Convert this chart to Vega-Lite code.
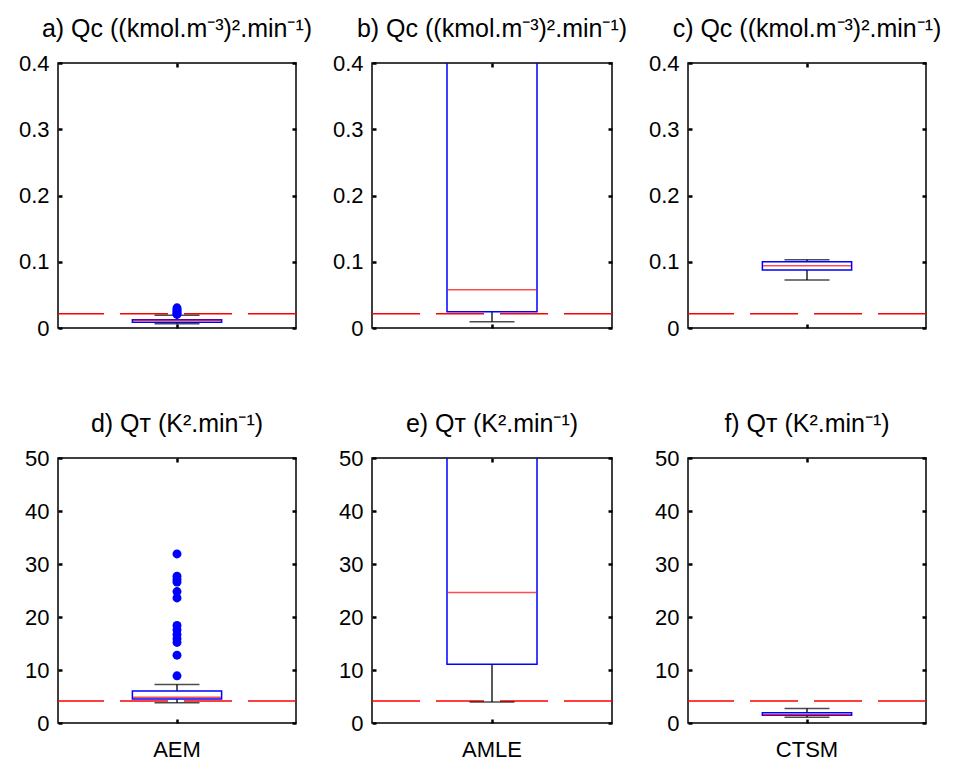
{
  "$schema": "https://vega.github.io/schema/vega-lite/v6.json",
  "background": "white",
  "padding": {"left": 12, "top": 16, "right": 5, "bottom": 5},
  "datasets": {
    "stats": [
      {"panel": "a", "method": "AEM", "lower": 0.0065, "q1": 0.0088, "median": 0.0118, "q3": 0.0126, "upper": 0.0192, "thr": 0.0215},
      {"panel": "b", "method": "AMLE", "lower": 0.0095, "q1": 0.0246, "median": 0.0578, "q3": 0.62, "upper": 0.95, "thr": 0.0215},
      {"panel": "c", "method": "CTSM", "lower": 0.0725, "q1": 0.0875, "median": 0.094, "q3": 0.1001, "upper": 0.1031, "thr": 0.0215},
      {"panel": "d", "method": "AEM", "lower": 3.8, "q1": 4.55, "median": 4.86, "q3": 6.06, "upper": 7.25, "thr": 4.15},
      {"panel": "e", "method": "AMLE", "lower": 3.95, "q1": 11.1, "median": 24.6, "q3": 80, "upper": 120, "thr": 4.15},
      {"panel": "f", "method": "CTSM", "lower": 1.09, "q1": 1.45, "median": 1.55, "q3": 1.94, "upper": 2.73, "thr": 4.15}
    ],
    "outliers": [
      {"panel": "a", "method": "AEM", "value": 0.0205},
      {"panel": "a", "method": "AEM", "value": 0.022},
      {"panel": "a", "method": "AEM", "value": 0.024},
      {"panel": "a", "method": "AEM", "value": 0.026},
      {"panel": "a", "method": "AEM", "value": 0.028},
      {"panel": "a", "method": "AEM", "value": 0.0305},
      {"panel": "d", "method": "AEM", "value": 8.9},
      {"panel": "d", "method": "AEM", "value": 12.8},
      {"panel": "d", "method": "AEM", "value": 15.2},
      {"panel": "d", "method": "AEM", "value": 15.9},
      {"panel": "d", "method": "AEM", "value": 16.7},
      {"panel": "d", "method": "AEM", "value": 17.6},
      {"panel": "d", "method": "AEM", "value": 18.4},
      {"panel": "d", "method": "AEM", "value": 23.6},
      {"panel": "d", "method": "AEM", "value": 24.8},
      {"panel": "d", "method": "AEM", "value": 26.6},
      {"panel": "d", "method": "AEM", "value": 27.1},
      {"panel": "d", "method": "AEM", "value": 27.7},
      {"panel": "d", "method": "AEM", "value": 31.9}
    ]
  },
  "config": {
    "font": "Liberation Sans",
    "view": {"stroke": "black", "strokeWidth": 1.5},
    "title": {"fontSize": 25, "fontWeight": "normal", "color": "black", "offset": 10, "font": "Liberation Sans"},
    "axis": {"tickColor": "black", "tickWidth": 2.5, "tickSize": -4, "domain": false, "grid": false, "labelFontSize": 22, "labelColor": "black", "labelFont": "Liberation Sans"}
  },
  "spacing": 71,
  "vconcat": [
    {
      "spacing": 76,
      "bounds": "flush",
      "hconcat": [
        {
          "width": 238, "height": 265,
          "title": "a) Qᴄ ((kmol.m⁻³)².min⁻¹)",
          "data": {"name": "stats"},
          "transform": [{"filter": "datum.panel === 'a'"}],
          "resolve": {"axis": {"x": "independent", "y": "independent"}},
          "layer": [
            {"mark": {"type": "rule", "color": "#ff0000", "strokeWidth": 1.5, "strokeDash": [48, 16]},
             "encoding": {"y": {"field": "thr", "type": "quantitative", "scale": {"domain": [0, 0.4], "nice": false}, "axis": {"orient": "left", "values": [0, 0.1, 0.2, 0.3, 0.4], "format": "~g", "title": null, "labelPadding": 13, "minExtent": 45, "maxExtent": 45}}}},
            {"mark": {"type": "rule", "color": "black", "strokeWidth": 1.3, "clip": true},
             "encoding": {"x": {"field": "method", "type": "nominal", "scale": {"paddingInner": 0, "paddingOuter": 0}, "axis": null}, "y": {"field": "lower", "type": "quantitative", "scale": {"domain": [0, 0.4], "nice": false}, "axis": null}, "y2": {"field": "q1"}}},
            {"mark": {"type": "rule", "color": "black", "strokeWidth": 1.3, "clip": true},
             "encoding": {"x": {"field": "method", "type": "nominal", "axis": null}, "y": {"field": "q3", "type": "quantitative", "axis": null}, "y2": {"field": "upper"}}},
            {"mark": {"type": "tick", "color": "black", "size": 45, "thickness": 1.5, "clip": true},
             "encoding": {"x": {"field": "method", "type": "nominal", "axis": null}, "y": {"field": "lower", "type": "quantitative", "axis": null}}},
            {"mark": {"type": "tick", "color": "black", "size": 45, "thickness": 1.5, "clip": true},
             "encoding": {"x": {"field": "method", "type": "nominal", "axis": null}, "y": {"field": "upper", "type": "quantitative", "axis": null}}},
            {"data": {"name": "outliers"}, "transform": [{"filter": "datum.panel === 'a'"}],
             "mark": {"type": "point", "filled": true, "color": "#0000ff", "size": 80, "opacity": 1, "clip": true},
             "encoding": {"x": {"field": "method", "type": "nominal", "axis": null}, "y": {"field": "value", "type": "quantitative", "axis": null}}},
            {"mark": {"type": "bar", "fill": "transparent", "stroke": "#0000ff", "strokeWidth": 1.5, "width": {"band": 0.375}, "clip": true},
             "encoding": {"x": {"field": "method", "type": "nominal", "axis": {"orient": "bottom", "labels": false, "title": null}}, "y": {"field": "q1", "type": "quantitative", "axis": {"orient": "right", "labels": false, "values": [0, 0.1, 0.2, 0.3, 0.4], "title": null, "minExtent": 0, "maxExtent": 0}}, "y2": {"field": "q3"}}},
            {"mark": {"type": "tick", "color": "#ff0000", "size": 88, "thickness": 1.5, "clip": true},
             "encoding": {"x": {"field": "method", "type": "nominal", "axis": {"orient": "top", "labels": false, "title": null}}, "y": {"field": "median", "type": "quantitative", "axis": null}}}
          ]
        },
        {
          "width": 240, "height": 265,
          "title": "b) Qᴄ ((kmol.m⁻³)².min⁻¹)",
          "data": {"name": "stats"},
          "transform": [{"filter": "datum.panel === 'b'"}],
          "resolve": {"axis": {"x": "independent", "y": "independent"}},
          "layer": [
            {"mark": {"type": "rule", "color": "#ff0000", "strokeWidth": 1.5, "strokeDash": [48, 16]},
             "encoding": {"y": {"field": "thr", "type": "quantitative", "scale": {"domain": [0, 0.4], "nice": false}, "axis": {"orient": "left", "values": [0, 0.1, 0.2, 0.3, 0.4], "format": "~g", "title": null, "labelPadding": 13, "minExtent": 45, "maxExtent": 45}}}},
            {"mark": {"type": "rule", "color": "black", "strokeWidth": 1.3, "clip": true},
             "encoding": {"x": {"field": "method", "type": "nominal", "scale": {"paddingInner": 0, "paddingOuter": 0}, "axis": null}, "y": {"field": "lower", "type": "quantitative", "scale": {"domain": [0, 0.4], "nice": false}, "axis": null}, "y2": {"field": "q1"}}},
            {"mark": {"type": "rule", "color": "black", "strokeWidth": 1.3, "clip": true},
             "encoding": {"x": {"field": "method", "type": "nominal", "axis": null}, "y": {"field": "q3", "type": "quantitative", "axis": null}, "y2": {"field": "upper"}}},
            {"mark": {"type": "tick", "color": "black", "size": 45, "thickness": 1.5, "clip": true},
             "encoding": {"x": {"field": "method", "type": "nominal", "axis": null}, "y": {"field": "lower", "type": "quantitative", "axis": null}}},
            {"mark": {"type": "tick", "color": "black", "size": 45, "thickness": 1.5, "clip": true},
             "encoding": {"x": {"field": "method", "type": "nominal", "axis": null}, "y": {"field": "upper", "type": "quantitative", "axis": null}}},
            {"mark": {"type": "bar", "fill": "transparent", "stroke": "#0000ff", "strokeWidth": 1.5, "width": {"band": 0.375}, "clip": true},
             "encoding": {"x": {"field": "method", "type": "nominal", "axis": {"orient": "bottom", "labels": false, "title": null}}, "y": {"field": "q1", "type": "quantitative", "axis": {"orient": "right", "labels": false, "values": [0, 0.1, 0.2, 0.3, 0.4], "title": null, "minExtent": 0, "maxExtent": 0}}, "y2": {"field": "q3"}}},
            {"mark": {"type": "tick", "color": "#ff0000", "size": 88, "thickness": 1.5, "clip": true},
             "encoding": {"x": {"field": "method", "type": "nominal", "axis": {"orient": "top", "labels": false, "title": null}}, "y": {"field": "median", "type": "quantitative", "axis": null}}}
          ]
        },
        {
          "width": 238, "height": 265,
          "title": "c) Qᴄ ((kmol.m⁻³)².min⁻¹)",
          "data": {"name": "stats"},
          "transform": [{"filter": "datum.panel === 'c'"}],
          "resolve": {"axis": {"x": "independent", "y": "independent"}},
          "layer": [
            {"mark": {"type": "rule", "color": "#ff0000", "strokeWidth": 1.5, "strokeDash": [48, 16]},
             "encoding": {"y": {"field": "thr", "type": "quantitative", "scale": {"domain": [0, 0.4], "nice": false}, "axis": {"orient": "left", "values": [0, 0.1, 0.2, 0.3, 0.4], "format": "~g", "title": null, "labelPadding": 13, "minExtent": 45, "maxExtent": 45}}}},
            {"mark": {"type": "rule", "color": "black", "strokeWidth": 1.3, "clip": true},
             "encoding": {"x": {"field": "method", "type": "nominal", "scale": {"paddingInner": 0, "paddingOuter": 0}, "axis": null}, "y": {"field": "lower", "type": "quantitative", "scale": {"domain": [0, 0.4], "nice": false}, "axis": null}, "y2": {"field": "q1"}}},
            {"mark": {"type": "rule", "color": "black", "strokeWidth": 1.3, "clip": true},
             "encoding": {"x": {"field": "method", "type": "nominal", "axis": null}, "y": {"field": "q3", "type": "quantitative", "axis": null}, "y2": {"field": "upper"}}},
            {"mark": {"type": "tick", "color": "black", "size": 45, "thickness": 1.5, "clip": true},
             "encoding": {"x": {"field": "method", "type": "nominal", "axis": null}, "y": {"field": "lower", "type": "quantitative", "axis": null}}},
            {"mark": {"type": "tick", "color": "black", "size": 45, "thickness": 1.5, "clip": true},
             "encoding": {"x": {"field": "method", "type": "nominal", "axis": null}, "y": {"field": "upper", "type": "quantitative", "axis": null}}},
            {"mark": {"type": "bar", "fill": "transparent", "stroke": "#0000ff", "strokeWidth": 1.5, "width": {"band": 0.375}, "clip": true},
             "encoding": {"x": {"field": "method", "type": "nominal", "axis": {"orient": "bottom", "labels": false, "title": null}}, "y": {"field": "q1", "type": "quantitative", "axis": {"orient": "right", "labels": false, "values": [0, 0.1, 0.2, 0.3, 0.4], "title": null, "minExtent": 0, "maxExtent": 0}}, "y2": {"field": "q3"}}},
            {"mark": {"type": "tick", "color": "#ff0000", "size": 88, "thickness": 1.5, "clip": true},
             "encoding": {"x": {"field": "method", "type": "nominal", "axis": {"orient": "top", "labels": false, "title": null}}, "y": {"field": "median", "type": "quantitative", "axis": null}}}
          ]
        }
      ]
    },
    {
      "spacing": 76,
      "bounds": "flush",
      "hconcat": [
        {
          "width": 238, "height": 265,
          "title": "d) Qᴛ (K².min⁻¹)",
          "data": {"name": "stats"},
          "transform": [{"filter": "datum.panel === 'd'"}],
          "resolve": {"axis": {"x": "independent", "y": "independent"}},
          "layer": [
            {"mark": {"type": "rule", "color": "#ff0000", "strokeWidth": 1.5, "strokeDash": [48, 16]},
             "encoding": {"y": {"field": "thr", "type": "quantitative", "scale": {"domain": [0, 50], "nice": false}, "axis": {"orient": "left", "values": [0, 10, 20, 30, 40, 50], "title": null, "labelPadding": 13, "minExtent": 45, "maxExtent": 45}}}},
            {"mark": {"type": "rule", "color": "black", "strokeWidth": 1.3, "clip": true},
             "encoding": {"x": {"field": "method", "type": "nominal", "scale": {"paddingInner": 0, "paddingOuter": 0}, "axis": null}, "y": {"field": "lower", "type": "quantitative", "scale": {"domain": [0, 50], "nice": false}, "axis": null}, "y2": {"field": "q1"}}},
            {"mark": {"type": "rule", "color": "black", "strokeWidth": 1.3, "clip": true},
             "encoding": {"x": {"field": "method", "type": "nominal", "axis": null}, "y": {"field": "q3", "type": "quantitative", "axis": null}, "y2": {"field": "upper"}}},
            {"mark": {"type": "tick", "color": "black", "size": 45, "thickness": 1.5, "clip": true},
             "encoding": {"x": {"field": "method", "type": "nominal", "axis": null}, "y": {"field": "lower", "type": "quantitative", "axis": null}}},
            {"mark": {"type": "tick", "color": "black", "size": 45, "thickness": 1.5, "clip": true},
             "encoding": {"x": {"field": "method", "type": "nominal", "axis": null}, "y": {"field": "upper", "type": "quantitative", "axis": null}}},
            {"data": {"name": "outliers"}, "transform": [{"filter": "datum.panel === 'd'"}],
             "mark": {"type": "point", "filled": true, "color": "#0000ff", "size": 80, "opacity": 1, "clip": true},
             "encoding": {"x": {"field": "method", "type": "nominal", "axis": null}, "y": {"field": "value", "type": "quantitative", "axis": null}}},
            {"mark": {"type": "bar", "fill": "transparent", "stroke": "#0000ff", "strokeWidth": 1.5, "width": {"band": 0.375}, "clip": true},
             "encoding": {"x": {"field": "method", "type": "nominal", "axis": {"orient": "bottom", "labels": true, "labelAngle": 0, "labelPadding": 20, "title": null}}, "y": {"field": "q1", "type": "quantitative", "axis": {"orient": "right", "labels": false, "values": [0, 10, 20, 30, 40, 50], "title": null, "minExtent": 0, "maxExtent": 0}}, "y2": {"field": "q3"}}},
            {"mark": {"type": "tick", "color": "#ff0000", "size": 88, "thickness": 1.5, "clip": true},
             "encoding": {"x": {"field": "method", "type": "nominal", "axis": {"orient": "top", "labels": false, "title": null}}, "y": {"field": "median", "type": "quantitative", "axis": null}}}
          ]
        },
        {
          "width": 240, "height": 265,
          "title": "e) Qᴛ (K².min⁻¹)",
          "data": {"name": "stats"},
          "transform": [{"filter": "datum.panel === 'e'"}],
          "resolve": {"axis": {"x": "independent", "y": "independent"}},
          "layer": [
            {"mark": {"type": "rule", "color": "#ff0000", "strokeWidth": 1.5, "strokeDash": [48, 16]},
             "encoding": {"y": {"field": "thr", "type": "quantitative", "scale": {"domain": [0, 50], "nice": false}, "axis": {"orient": "left", "values": [0, 10, 20, 30, 40, 50], "title": null, "labelPadding": 13, "minExtent": 45, "maxExtent": 45}}}},
            {"mark": {"type": "rule", "color": "black", "strokeWidth": 1.3, "clip": true},
             "encoding": {"x": {"field": "method", "type": "nominal", "scale": {"paddingInner": 0, "paddingOuter": 0}, "axis": null}, "y": {"field": "lower", "type": "quantitative", "scale": {"domain": [0, 50], "nice": false}, "axis": null}, "y2": {"field": "q1"}}},
            {"mark": {"type": "rule", "color": "black", "strokeWidth": 1.3, "clip": true},
             "encoding": {"x": {"field": "method", "type": "nominal", "axis": null}, "y": {"field": "q3", "type": "quantitative", "axis": null}, "y2": {"field": "upper"}}},
            {"mark": {"type": "tick", "color": "black", "size": 45, "thickness": 1.5, "clip": true},
             "encoding": {"x": {"field": "method", "type": "nominal", "axis": null}, "y": {"field": "lower", "type": "quantitative", "axis": null}}},
            {"mark": {"type": "tick", "color": "black", "size": 45, "thickness": 1.5, "clip": true},
             "encoding": {"x": {"field": "method", "type": "nominal", "axis": null}, "y": {"field": "upper", "type": "quantitative", "axis": null}}},
            {"mark": {"type": "bar", "fill": "transparent", "stroke": "#0000ff", "strokeWidth": 1.5, "width": {"band": 0.375}, "clip": true},
             "encoding": {"x": {"field": "method", "type": "nominal", "axis": {"orient": "bottom", "labels": true, "labelAngle": 0, "labelPadding": 20, "title": null}}, "y": {"field": "q1", "type": "quantitative", "axis": {"orient": "right", "labels": false, "values": [0, 10, 20, 30, 40, 50], "title": null, "minExtent": 0, "maxExtent": 0}}, "y2": {"field": "q3"}}},
            {"mark": {"type": "tick", "color": "#ff0000", "size": 88, "thickness": 1.5, "clip": true},
             "encoding": {"x": {"field": "method", "type": "nominal", "axis": {"orient": "top", "labels": false, "title": null}}, "y": {"field": "median", "type": "quantitative", "axis": null}}}
          ]
        },
        {
          "width": 238, "height": 265,
          "title": "f) Qᴛ (K².min⁻¹)",
          "data": {"name": "stats"},
          "transform": [{"filter": "datum.panel === 'f'"}],
          "resolve": {"axis": {"x": "independent", "y": "independent"}},
          "layer": [
            {"mark": {"type": "rule", "color": "#ff0000", "strokeWidth": 1.5, "strokeDash": [48, 16]},
             "encoding": {"y": {"field": "thr", "type": "quantitative", "scale": {"domain": [0, 50], "nice": false}, "axis": {"orient": "left", "values": [0, 10, 20, 30, 40, 50], "title": null, "labelPadding": 13, "minExtent": 45, "maxExtent": 45}}}},
            {"mark": {"type": "rule", "color": "black", "strokeWidth": 1.3, "clip": true},
             "encoding": {"x": {"field": "method", "type": "nominal", "scale": {"paddingInner": 0, "paddingOuter": 0}, "axis": null}, "y": {"field": "lower", "type": "quantitative", "scale": {"domain": [0, 50], "nice": false}, "axis": null}, "y2": {"field": "q1"}}},
            {"mark": {"type": "rule", "color": "black", "strokeWidth": 1.3, "clip": true},
             "encoding": {"x": {"field": "method", "type": "nominal", "axis": null}, "y": {"field": "q3", "type": "quantitative", "axis": null}, "y2": {"field": "upper"}}},
            {"mark": {"type": "tick", "color": "black", "size": 45, "thickness": 1.5, "clip": true},
             "encoding": {"x": {"field": "method", "type": "nominal", "axis": null}, "y": {"field": "lower", "type": "quantitative", "axis": null}}},
            {"mark": {"type": "tick", "color": "black", "size": 45, "thickness": 1.5, "clip": true},
             "encoding": {"x": {"field": "method", "type": "nominal", "axis": null}, "y": {"field": "upper", "type": "quantitative", "axis": null}}},
            {"mark": {"type": "bar", "fill": "transparent", "stroke": "#0000ff", "strokeWidth": 1.5, "width": {"band": 0.375}, "clip": true},
             "encoding": {"x": {"field": "method", "type": "nominal", "axis": {"orient": "bottom", "labels": true, "labelAngle": 0, "labelPadding": 20, "title": null}}, "y": {"field": "q1", "type": "quantitative", "axis": {"orient": "right", "labels": false, "values": [0, 10, 20, 30, 40, 50], "title": null, "minExtent": 0, "maxExtent": 0}}, "y2": {"field": "q3"}}},
            {"mark": {"type": "tick", "color": "#ff0000", "size": 88, "thickness": 1.5, "clip": true},
             "encoding": {"x": {"field": "method", "type": "nominal", "axis": {"orient": "top", "labels": false, "title": null}}, "y": {"field": "median", "type": "quantitative", "axis": null}}}
          ]
        }
      ]
    }
  ]
}
